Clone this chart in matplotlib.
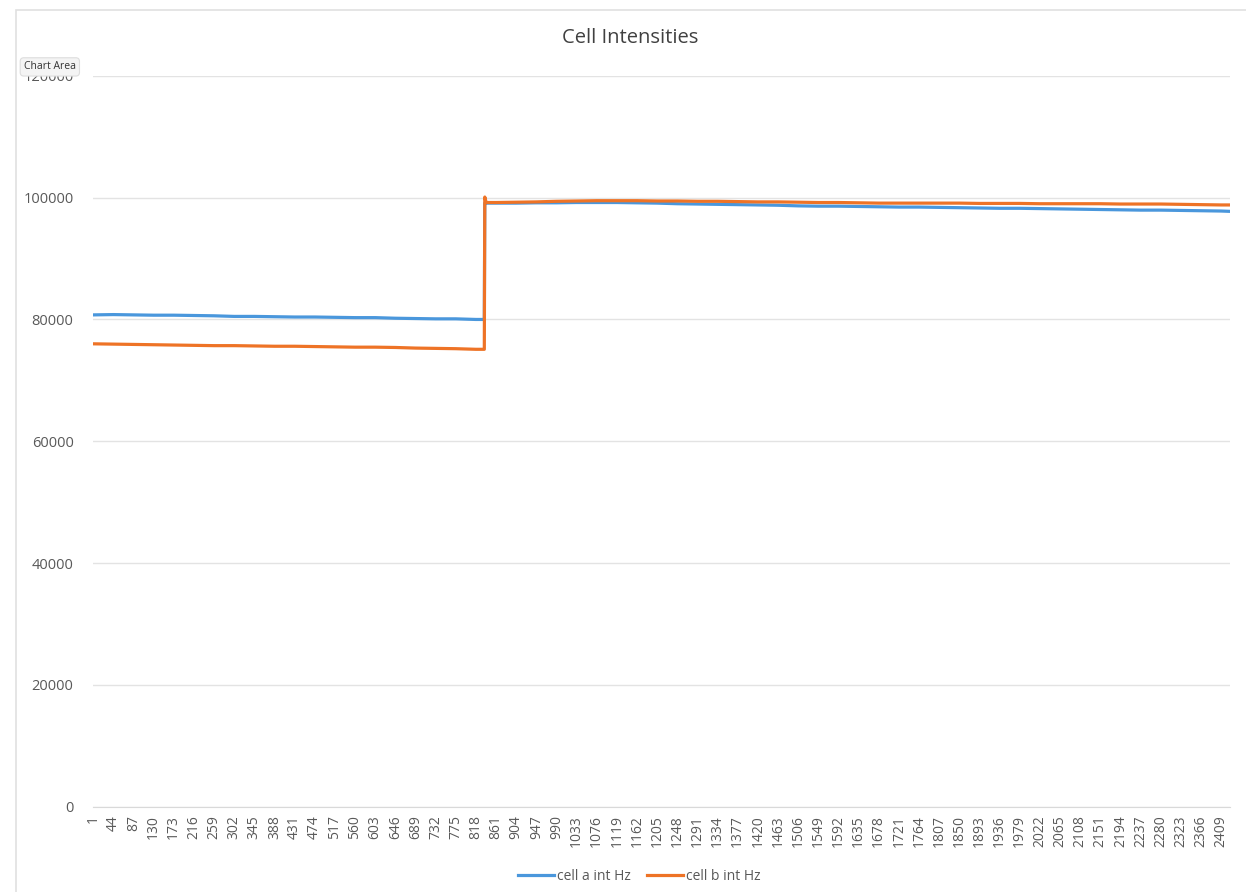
import matplotlib
matplotlib.use('Agg')
import matplotlib.pyplot as plt
from matplotlib.patches import Rectangle

# sample index (x category) and intensities
n_samples = 2427
sample_idx = [1, 44, 87, 130, 173, 216, 259, 302, 345, 388, 431, 474, 517, 560, 603, 646, 689, 732, 775, 818, 836,
              837, 840, 861, 904, 947, 990, 1033, 1076, 1119, 1162, 1205, 1248, 1291, 1334, 1377, 1420, 1463, 1506,
              1549, 1592, 1635, 1678, 1721, 1764, 1807, 1850, 1893, 1936, 1979, 2022, 2065, 2108, 2151, 2194, 2237,
              2280, 2323, 2366, 2409, 2427]
cell_a = [80750, 80800, 80750, 80700, 80700, 80650, 80600, 80500, 80500, 80450, 80400, 80400, 80350, 80300, 80300,
          80200, 80150, 80100, 80100, 80000, 80000,
          99100, 99100, 99100, 99100, 99150, 99150, 99200, 99200, 99200, 99150, 99100, 99000, 98950, 98900, 98850,
          98800, 98750, 98650, 98600, 98600, 98550, 98500, 98450, 98450, 98400, 98350, 98300, 98250, 98250, 98200,
          98150, 98100, 98050, 98000, 97950, 97950, 97900, 97850, 97800, 97750]
cell_b = [76000, 75950, 75900, 75850, 75800, 75750, 75700, 75700, 75650, 75600, 75600, 75550, 75500, 75450, 75450,
          75400, 75300, 75250, 75200, 75100, 75100,
          100100, 99200, 99200, 99250, 99300, 99400, 99450, 99500, 99500, 99500, 99450, 99450, 99400, 99400, 99350,
          99300, 99300, 99250, 99200, 99200, 99150, 99100, 99100, 99100, 99100, 99100, 99050, 99050, 99050, 99000,
          99000, 99000, 99000, 98950, 98950, 98950, 98900, 98850, 98800, 98800]
x_ticks = list(range(1, n_samples + 1, 43))
y_ticks = [0, 20000, 40000, 60000, 80000, 100000, 120000]

plt.rcParams['font.family'] = ['Open Sans', 'DejaVu Sans']
grey = '#595959'

fig = plt.figure(figsize=(12.46, 8.92), dpi=100)
ax = fig.add_axes([0.0746, 0.0956, 0.9124, 0.8194])

ax.plot(sample_idx, cell_a, color='#4a97dc', lw=2.3, label='cell a int Hz')
ax.plot(sample_idx, cell_b, color='#ee7326', lw=2.3, label='cell b int Hz')

ax.set_xlim(0.5, n_samples + 0.5)
ax.set_ylim(0, 120000)
ax.set_yticks(y_ticks)
ax.set_yticklabels([str(v) for v in y_ticks], color=grey, fontsize=10.5)
ax.set_xticks(x_ticks)
ax.set_xticklabels([str(v) for v in x_ticks], rotation=90, color=grey, fontsize=10)
ax.tick_params(axis='y', length=0, pad=14)
ax.tick_params(axis='x', length=0, pad=6)
ax.grid(axis='y', color='#e3e3e3', lw=1)
ax.set_axisbelow(True)
for s in ['top', 'right', 'left']:
    ax.spines[s].set_visible(False)
ax.spines['bottom'].set_color('#d9d9d9')

fig.text(0.506, 0.957, 'Cell Intensities', ha='center', va='center', fontsize=14.5, color='#404040')

fig.legend(loc='center', bbox_to_anchor=(0.513, 0.017), ncol=2, frameon=False, fontsize=10,
           handlelength=2.6, columnspacing=1.2, handletextpad=0.2, labelcolor=grey)

# chart area frame and hover tag
fig.patches.append(Rectangle((0.013, -0.01), 1.0, 0.999, transform=fig.transFigure,
                             fill=False, edgecolor='#e0e0e0', lw=1.2))
fig.text(0.04, 0.925, 'Chart Area', ha='center', va='center', fontsize=7.5, color='#333333',
         bbox=dict(boxstyle='round,pad=0.35', fc='#f4f4f4', ec='#dddddd', lw=0.8))

fig.savefig('out.png', dpi=100)
